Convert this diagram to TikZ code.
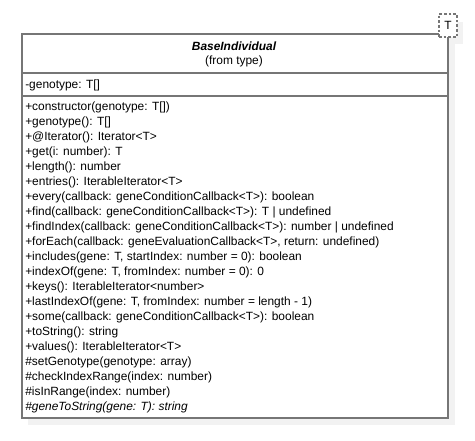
\documentclass[tikz,border=0pt]{standalone}
\usepackage{fontspec}
\setmainfont{Liberation Sans}
\definecolor{edgegray}{RGB}{118,118,118}
\definecolor{shadowgray}{RGB}{242,242,242}
\begin{document}
\begin{tikzpicture}[x=0.75pt,y=-0.75pt,
  txt/.style={anchor=west,inner sep=0pt,font=\fontsize{8.95}{10}\selectfont},
  ctr/.style={anchor=center,inner sep=0pt,font=\fontsize{8.95}{10}\selectfont},
  frame/.style={draw=edgegray,line width=1.3pt},
  tbox/.style={draw=edgegray,line width=1pt,dash pattern=on 2pt off 1.5pt,fill=white}]
\fill[white] (0,0) rectangle (475,441);
\useasboundingbox (0,0) rectangle (475,441);
% shadows
\fill[shadowgray] (28,41) rectangle (455,425);
\fill[shadowgray] (448,22) rectangle (463,44);
% main box
\node[frame,fill=white,inner sep=0pt,minimum width=426*0.75pt,minimum height=384*0.75pt,anchor=north west] (cls) at (21,33) {};
\coordinate (l1) at (21,73);
\coordinate (r1) at (447,73);
\coordinate (l2) at (21,96);
\coordinate (r2) at (447,96);
\draw[frame] (l1) -- (r1);
\draw[frame] (l2) -- (r2);
% template box
\node[tbox,minimum width=18*0.75pt,minimum height=23*0.75pt,inner sep=0pt,anchor=center,font=\fontsize{8.95}{10}\selectfont] (tpl) at (448,25.5) {T};
% header
\node[ctr,font=\fontsize{8.95}{10}\selectfont\bfseries\itshape] (name) at (234,46) {BaseIndividual};
\node[ctr] (from) at (234,61) {(from type)};
% attribute
\node[txt] (a1) at (25,85) {-genotype: T[]};
% methods
\foreach \t [count=\i from 0] in {
  {+constructor(genotype: T[])},
  {+genotype(): T[]},
  {+@Iterator(): Iterator<T>},
  {+get(i: number): T},
  {+length(): number},
  {+entries(): IterableIterator<T>},
  {+every(callback: geneConditionCallback<T>): boolean},
  {+find(callback: geneConditionCallback<T>): T | undefined},
  {+findIndex(callback: geneConditionCallback<T>): number | undefined},
  {+forEach(callback: geneEvaluationCallback<T>, return: undefined)},
  {+includes(gene: T, startIndex: number = 0): boolean},
  {+indexOf(gene: T, fromIndex: number = 0): 0},
  {+keys(): IterableIterator<number>},
  {+lastIndexOf(gene: T, fromIndex: number = length - 1)},
  {+some(callback: geneConditionCallback<T>): boolean},
  {+toString(): string},
  {+values(): IterableIterator<T>},
  {\#setGenotype(genotype: array)},
  {\#checkIndexRange(index: number)},
  {\#isInRange(index: number)}}
{
  \node[txt] (m\i) at (25,{107+15*\i}) {\t};
}
\node[txt,font=\fontsize{8.95}{10}\selectfont\itshape] (m20) at (25,407) {\#geneToString(gene: T): string};
\end{tikzpicture}
\end{document}
